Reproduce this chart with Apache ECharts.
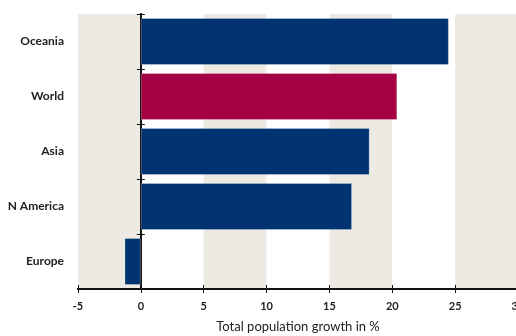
<!DOCTYPE html>
<html>
<head>
<meta charset="utf-8">
<script src="https://cdn.jsdelivr.net/npm/echarts@6/dist/echarts.min.js"></script>
<style>
  html, body { margin: 0; padding: 0; background: #fff; }
  #chart { width: 516px; height: 336px; }
</style>
</head>
<body>
<div id="chart"></div>
<script>
const regions = ['Oceania', 'World', 'Asia', 'N America', 'Europe']
const growth = [24.5, 20.4, 18.2, 16.8, -1.3]
const barColors = ['#003370', '#A50044', '#003370', '#003370', '#003370']
const xTicks = {min: -5, max: 30, interval: 5}

const myChart = echarts.init(document.getElementById('chart'))

const valueAxis = (extra) => Object.assign({
  type: 'value',
  min: xTicks.min,
  max: xTicks.max,
  interval: xTicks.interval,
  splitLine: {show: false},
  axisLine: {show: true, onZero: false, lineStyle: {color: '#111', width: 2}},
  axisTick: {show: true, length: 4, lineStyle: {color: '#111', width: 1}},
}, extra)

const catAxis = (extra) => Object.assign({
  type: 'category',
  data: regions,
  inverse: true,
  position: 'left',
  axisLine: {show: true, onZero: true, lineStyle: {color: '#111', width: 2}},
  axisTick: {show: true, length: 4, lineStyle: {color: '#111', width: 1}},
}, extra)

myChart.setOption({
  animation: false,
  grid: {left: 78, right: -2, top: 14, bottom: 47, outerBoundsMode: 'none', containLabel: false},
  xAxis: [
    valueAxis({
      name: 'Total population growth in %',
      nameLocation: 'middle',
      nameGap: 31,
      nameTextStyle: {color: '#222', fontSize: 13, fontFamily: 'Lato'},
      axisLabel: {color: '#222', fontSize: 11, fontWeight: 'bold', fontFamily: 'Lato', margin: 12},
      splitArea: {show: true, areaStyle: {color: ['#EDEAE3', '#ffffff']}},
    }),
    valueAxis({
      position: 'bottom',
      axisLabel: {show: false},
      axisTick: {show: true, inside: true, length: 4, lineStyle: {color: '#111', width: 1}},
    })
  ],
  yAxis: [
    catAxis({
      axisLabel: {
        color: '#222', fontSize: 12, fontWeight: 'bold', fontFamily: 'Lato',
        margin: 14
      }
    }),
    catAxis({
      axisLabel: {show: false},
      axisTick: {show: true, inside: true, length: 4, lineStyle: {color: '#111', width: 1}},
    })
  ],
  series: [
    {
      type: 'bar',
      data: growth.map((v, i) => ({value: v, itemStyle: {color: barColors[i]}})),
      barWidth: 47,
      itemStyle: {borderColor: 'rgba(255,255,255,0.25)', borderWidth: 1},
      z: 1
    }
  ]
})
</script>
</body>
</html>
